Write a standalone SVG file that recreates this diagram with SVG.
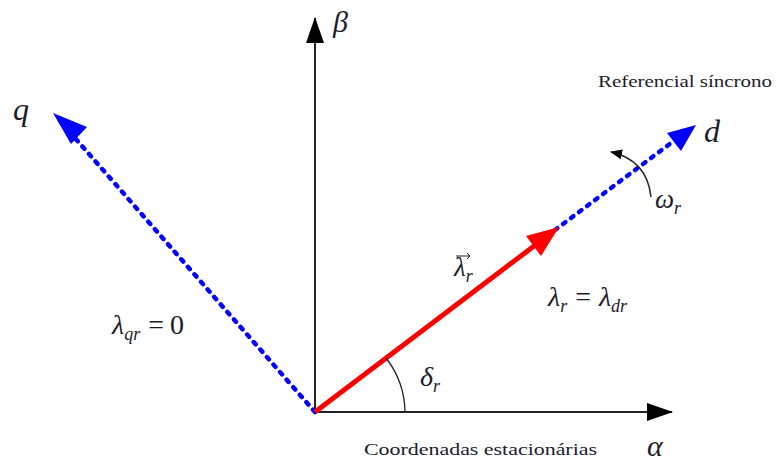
<svg xmlns="http://www.w3.org/2000/svg" width="783" height="461" viewBox="0 0 783 461">
<style>
.m{font-family:"Liberation Serif","DejaVu Serif",serif;font-style:italic;fill:#1c1c2c}
.t{font-family:"Liberation Serif","DejaVu Serif",serif;fill:#1c1c2c}
.ax{stroke:#222;stroke-width:2;fill:none}
.blue{stroke:#0000ff;stroke-width:4.5;stroke-dasharray:3 7;stroke-linecap:round;fill:none}
</style>
<defs>
<marker id="ah" markerWidth="26" markerHeight="18" refX="25" refY="9" orient="auto" markerUnits="userSpaceOnUse"><path d="M0,0 L26,9 L0,18 Z" fill="#000"/></marker>
<marker id="sm" markerWidth="12" markerHeight="10" refX="11" refY="5" orient="auto" markerUnits="userSpaceOnUse"><path d="M0,0 L12,5 L0,10 Z" fill="#000"/></marker>
</defs>
<g id="connectors">
<line id="alpha-axis" class="ax" x1="315" y1="412" x2="672" y2="412" marker-end="url(#ah)"/>
<line id="beta-axis" class="ax" x1="315" y1="412" x2="315" y2="18" marker-end="url(#ah)"/>
<line id="q-axis" class="blue" x1="315" y1="412" x2="75" y2="138"/>
<polygon points="53,113 87,127 71,144" fill="#0000ff"/>
<line id="d-axis" class="blue" x1="555" y1="230" x2="675" y2="140"/>
<polygon points="696,125 681,151 667,133" fill="#0000ff"/>
<line id="lambda" x1="315" y1="412" x2="538" y2="243" stroke="#ff0000" stroke-width="5"/>
<polygon points="559,227 541,256 526,236" fill="#ff0000"/>
<path id="delta-arc" d="M386,358 A90,90 0 0 1 405,412" stroke="#222" stroke-width="1.3" fill="none"/>
<path id="omega-arc" d="M651,197 Q647,160 611,152" stroke="#222" stroke-width="1.5" fill="none" marker-end="url(#sm)"/>
</g>
<g id="labels">
<text class="m" x="333" y="32" font-size="30">β</text>
<text class="m" x="13" y="120" font-size="32">q</text>
<text class="m" x="704" y="142" font-size="32">d</text>
<text class="m" x="647" y="456" font-size="30">α</text>
<text class="t" x="598" y="87" font-size="16" textLength="174" lengthAdjust="spacingAndGlyphs">Referencial síncrono</text>
<text class="t" x="364" y="455" font-size="16" textLength="233" lengthAdjust="spacingAndGlyphs">Coordenadas estacionárias</text>
<text class="m" x="655" y="208" font-size="27">ω<tspan font-size="18" dy="6">r</tspan></text>
<text class="m" x="454" y="276" font-size="27">λ<tspan font-size="18" dy="6">r</tspan></text>
<path d="M456,256 L470,256 M467,253 L470,256 L467,259" stroke="#1c1c2c" stroke-width="1" fill="none"/>
<text class="m" x="548" y="306" font-size="28">λ<tspan font-size="18" dy="6">r</tspan><tspan font-style="normal" dy="-6" dx="8">=</tspan><tspan dx="8">λ</tspan><tspan font-size="18" dy="6">dr</tspan></text>
<text class="m" x="112" y="334" font-size="28">λ<tspan font-size="18" dy="6">qr</tspan><tspan font-style="normal" dy="-6" dx="8">=</tspan><tspan font-style="normal" dx="6">0</tspan></text>
<text class="m" x="420" y="386" font-size="28">δ<tspan font-size="18" dy="6">r</tspan></text>
</g>
</svg>
